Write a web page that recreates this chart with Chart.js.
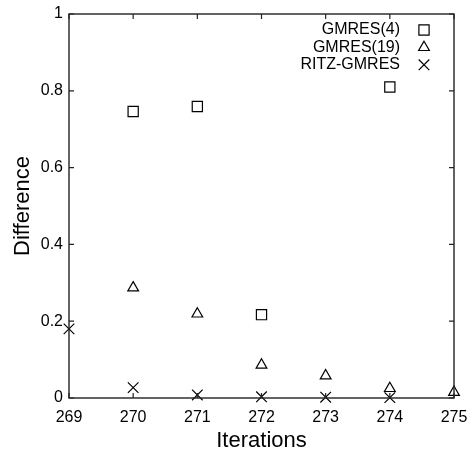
<!DOCTYPE html>
<html>
<head>
<meta charset="utf-8">
<script src="https://cdn.jsdelivr.net/npm/chart.js@4.4.0/dist/chart.umd.min.js"></script>
<style>
  html, body { margin: 0; padding: 0; background: #fff; }
  #wrap { width: 474px; height: 455px; }
</style>
</head>
<body>
<div id="wrap"><canvas id="c" width="474" height="455"></canvas></div>
<script>
// Tick positions
const iterTicks = [269, 270, 271, 272, 273, 274, 275];
const diffTicks = [0, 0.2, 0.4, 0.6, 0.8, 1];

// Difference per iteration for each solver
const gmres4Iter = [270, 271, 272, 274];
const gmres4Diff = [0.746, 0.759, 0.217, 0.81];

const gmres19Iter = [270, 271, 272, 273, 274, 275];
const gmres19Diff = [0.287, 0.219, 0.086, 0.058, 0.025, 0.015];

const ritzIter = [269, 270, 271, 272, 273, 274];
const ritzDiff = [0.18, 0.027, 0.008, 0.003, 0.002, 0.001];

const FONT = '"Liberation Sans", Arial, Helvetica, sans-serif';
Chart.defaults.font.family = FONT;
Chart.defaults.color = '#000';

const pairs = (xs, ys) => xs.map((x, i) => ({ x: x, y: ys[i] }));

// Box around the plot area with inward ticks mirrored on all sides
const framePlugin = {
  id: 'frame',
  afterDatasetsDraw(chart) {
    const { ctx, chartArea: a, scales } = chart;
    const t = 5;
    ctx.save();
    ctx.strokeStyle = '#222';
    ctx.lineWidth = 1.4;
    ctx.strokeRect(a.left, a.top, a.right - a.left, a.bottom - a.top);
    ctx.lineWidth = 1.2;
    ctx.beginPath();
    iterTicks.forEach(v => {
      const px = scales.x.getPixelForValue(v);
      ctx.moveTo(px, a.bottom); ctx.lineTo(px, a.bottom - t);
      ctx.moveTo(px, a.top); ctx.lineTo(px, a.top + t);
    });
    diffTicks.forEach(v => {
      const py = scales.y.getPixelForValue(v);
      ctx.moveTo(a.left, py); ctx.lineTo(a.left + t, py);
      ctx.moveTo(a.right, py); ctx.lineTo(a.right - t, py);
    });
    ctx.stroke();
    ctx.restore();
  }
};

// Key in the upper right corner: label right-aligned, marker to its right
const keyPlugin = {
  id: 'key',
  afterDraw(chart) {
    const { ctx, chartArea: a } = chart;
    ctx.save();
    ctx.font = '16px ' + FONT;
    ctx.textAlign = 'right';
    ctx.textBaseline = 'middle';
    chart.data.datasets.forEach((ds, i) => {
      const y = a.top + 16 + i * 17.4;
      ctx.fillStyle = '#000';
      ctx.fillText(ds.label, a.right - 54, y);
      ctx.strokeStyle = ds.borderColor;
      ctx.fillStyle = 'rgba(0,0,0,0)';
      ctx.lineWidth = ds.borderWidth;
      Chart.helpers.drawPoint(ctx, {
        pointStyle: ds.pointStyle,
        radius: ds.pointRadius,
        rotation: 0,
        borderWidth: ds.borderWidth
      }, a.right - 30, y);
    });
    ctx.restore();
  }
};

const markerBase = {
  showLine: false,
  clip: false,
  borderColor: '#000',
  backgroundColor: 'rgba(0,0,0,0)',
  borderWidth: 1.2
};

new Chart(document.getElementById('c'), {
  type: 'scatter',
  data: {
    datasets: [
      Object.assign({}, markerBase, {
        label: 'GMRES(4)', data: pairs(gmres4Iter, gmres4Diff),
        pointStyle: 'rect', pointRadius: 7.2, pointHoverRadius: 7.2
      }),
      Object.assign({}, markerBase, {
        label: 'GMRES(19)', data: pairs(gmres19Iter, gmres19Diff),
        pointStyle: 'triangle', pointRadius: 6.2, pointHoverRadius: 6.2
      }),
      Object.assign({}, markerBase, {
        label: 'RITZ-GMRES', data: pairs(ritzIter, ritzDiff),
        pointStyle: 'crossRot', pointRadius: 7.5, pointHoverRadius: 7.5
      })
    ]
  },
  options: {
    responsive: false,
    animation: false,
    devicePixelRatio: 1,
    layout: { autoPadding: false, padding: { left: 0, right: 20, top: 14, bottom: 0 } },
    plugins: {
      legend: { display: false },
      tooltip: { enabled: false }
    },
    scales: {
      x: {
        type: 'linear',
        min: iterTicks[0],
        max: iterTicks[iterTicks.length - 1],
        afterBuildTicks: s => { s.ticks = iterTicks.map(v => ({ value: v })); },
        afterFit: s => { s.height = 57; s.paddingLeft = 0; s.paddingRight = 0; },
        grid: { display: false, drawTicks: false },
        border: { display: false },
        ticks: { font: { size: 16 }, padding: 10, maxRotation: 0, autoSkip: false,
                 callback: v => String(v) },
        title: { display: true, text: 'Iterations', font: { size: 22 }, padding: { top: 0, bottom: 1 } }
      },
      y: {
        type: 'linear',
        min: diffTicks[0],
        max: diffTicks[diffTicks.length - 1],
        afterBuildTicks: s => { s.ticks = diffTicks.map(v => ({ value: v })); },
        afterFit: s => { s.width = 69; s.paddingTop = 0; s.paddingBottom = 0; },
        grid: { display: false, drawTicks: false },
        border: { display: false },
        ticks: { font: { size: 16 }, padding: 6, autoSkip: false,
                 callback: v => String(Math.round(v * 10) / 10) },
        title: { display: true, text: 'Difference', font: { size: 22 }, padding: { top: 10, bottom: 0 } }
      }
    }
  },
  plugins: [framePlugin, keyPlugin]
});
</script>
</body>
</html>
